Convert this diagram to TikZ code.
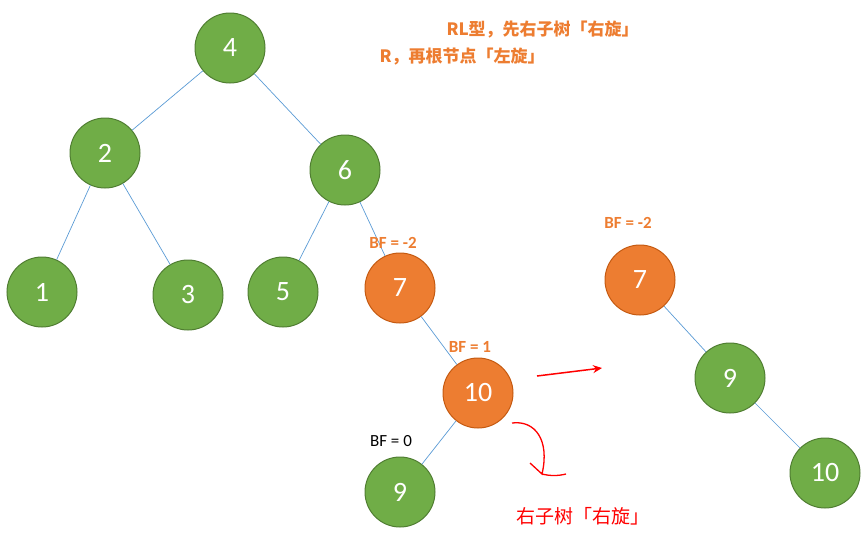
\documentclass[tikz,border=0pt]{standalone}
\usepackage{fontspec}
\setmainfont{Carlito}
\newfontfamily\cjk{Noto Sans CJK SC}
\usetikzlibrary{arrows.meta}
\definecolor{gr}{HTML}{70AD47}
\definecolor{grb}{HTML}{507E32}
\definecolor{og}{HTML}{ED7D31}
\definecolor{ogb}{HTML}{C55A11}
\definecolor{ed}{HTML}{5B9BD5}
\begin{document}
\begin{tikzpicture}[x=1pt,y=-1pt,
 n/.style={circle,minimum size=70pt,inner sep=0pt,draw=grb,line width=1pt,fill=gr,text=white,font=\fontsize{28}{30}\selectfont},
 o/.style={n,fill=og,draw=ogb},
 e/.style={draw=ed,line width=0.7pt},
 bf/.style={text=og,font=\bfseries\fontsize{17}{19}\selectfont},
 red/.style={draw=red,line width=1.5pt}]
\useasboundingbox (0,0) rectangle (865,539);
\node[n] (n4) at (230,48) {4};
\node[n] (n2) at (105,153) {2};
\node[n] (n6) at (345,170) {6};
\node[n] (n1) at (42,292) {1};
\node[n] (n3) at (188,295) {3};
\node[n] (n5) at (283,292) {5};
\node[o] (n7) at (400,288) {7};
\node[o] (n10) at (478,393) {10};
\node[n] (n9) at (400,492) {9};
\node[o] (m7) at (640,280) {7};
\node[n] (m9) at (730,378) {9};
\node[n] (m10) at (825,473) {10};
\foreach \a/\b in {n4/n2,n4/n6,n2/n1,n2/n3,n6/n5,n6/n7,n7/n10,n10/n9,m7/m9,m9/m10}
  \draw[e] (\a) -- (\b);
\node[bf] (b1) at (393,243) {BF = -2};
\node[bf] (b2) at (470,347) {BF = 1};
\node[font=\fontsize{17}{19}\selectfont] (b3) at (391,441) {BF = 0};
\node[bf] (b4) at (628,223) {BF = -2};
\node[anchor=west,text=og,font=\cjk\bfseries\fontsize{17}{19}\selectfont] (t1) at (443,30) {RL型，先右子树「右旋」};
\node[anchor=west,text=og,font=\cjk\bfseries\fontsize{17}{19}\selectfont] (t2) at (376,57) {R，再根节点「左旋」};
\coordinate (a1) at (537,376);
\coordinate (a2) at (602,368);
\draw[red,-{Stealth[length=9pt,width=8pt]}] (a1) -- (a2);
\coordinate (c1) at (512,423);
\coordinate (c2) at (540,475);
\coordinate (c3) at (566,474);
\coordinate (c4) at (530,463);
\draw[draw=red,line width=1.3pt] (c1) .. controls (535,420) and (550,440) .. (542,474) -- (c4);
\draw[draw=red,line width=1.3pt] (542,474) .. controls (550,476) and (558,476) .. (c3);
\node[text=red,font=\cjk\fontsize{19}{21}\selectfont] (t3) at (583,516) {右子树「右旋」};
\end{tikzpicture}
\end{document}
